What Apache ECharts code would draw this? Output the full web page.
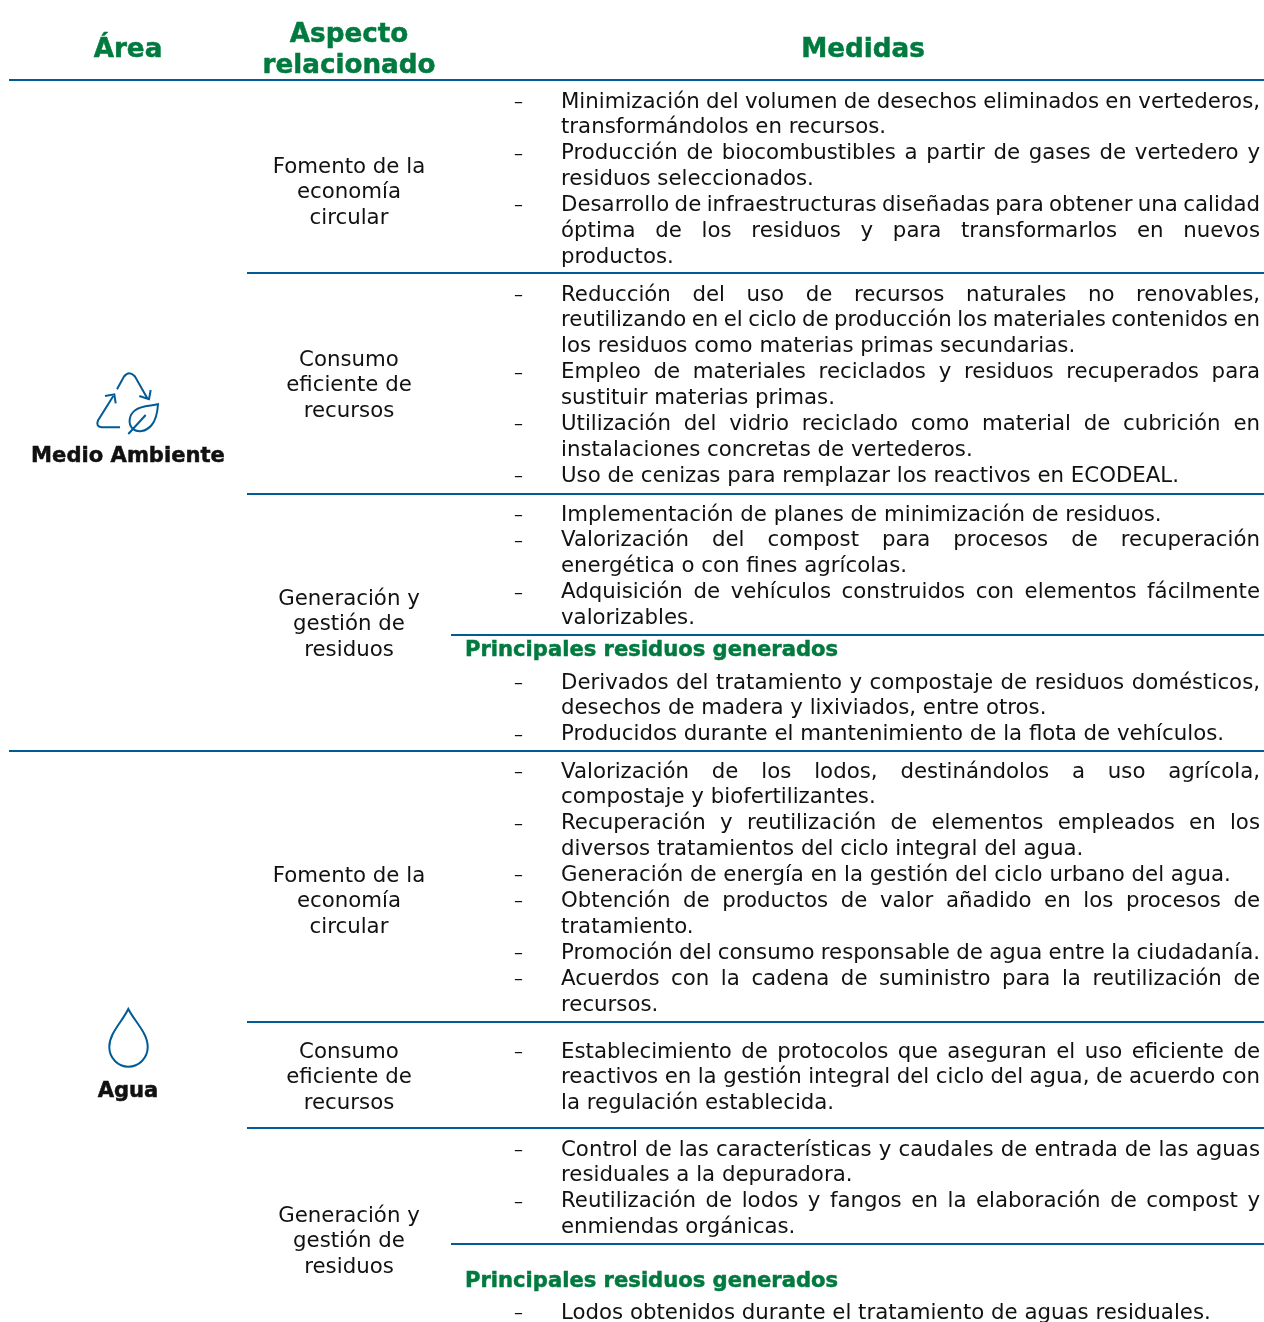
<!DOCTYPE html>
<html>
<head>
<meta charset="utf-8">
<style>html,body{margin:0;background:#fff}#main{width:1264px;height:1322px}</style>
<script src="https://cdn.jsdelivr.net/npm/echarts@6/dist/echarts.min.js"></script>
</head>
<body>
<div id="main"></div>
<script>
const headers = ["Área", ["Aspecto", "relacionado"], "Medidas"]
const areas = ["Medio Ambiente", "Agua"]
const subHeading = "Principales residuos generados"
const aspectCircular = ["Fomento de la", "economía", "circular"]
const aspectConsumo = ["Consumo", "eficiente de", "recursos"]
const aspectResiduos = ["Generación y", "gestión de", "residuos"]

// cada medida es una lista de lineas, la ultima no se justifica
const medidas1 = [
  ["Minimización del volumen de desechos eliminados en vertederos,", "transformándolos en recursos."],
  ["Producción de biocombustibles a partir de gases de vertedero y", "residuos seleccionados."],
  ["Desarrollo de infraestructuras diseñadas para obtener una calidad", "óptima de los residuos y para transformarlos en nuevos", "productos."]
]
const medidas2 = [
  ["Reducción del uso de recursos naturales no renovables,", "reutilizando en el ciclo de producción los materiales contenidos en", "los residuos como materias primas secundarias."],
  ["Empleo de materiales reciclados y residuos recuperados para", "sustituir materias primas."],
  ["Utilización del vidrio reciclado como material de cubrición en", "instalaciones concretas de vertederos."],
  ["Uso de cenizas para remplazar los reactivos en ECODEAL."]
]
const medidas3 = [
  ["Implementación de planes de minimización de residuos."],
  ["Valorización del compost para procesos de recuperación", "energética o con fines agrícolas."],
  ["Adquisición de vehículos construidos con elementos fácilmente", "valorizables."]
]
const residuos3 = [
  ["Derivados del tratamiento y compostaje de residuos domésticos,", "desechos de madera y lixiviados, entre otros."],
  ["Producidos durante el mantenimiento de la flota de vehículos."]
]
const medidas4 = [
  ["Valorización de los lodos, destinándolos a uso agrícola,", "compostaje y biofertilizantes."],
  ["Recuperación y reutilización de elementos empleados en los", "diversos tratamientos del ciclo integral del agua."],
  ["Generación de energía en la gestión del ciclo urbano del agua."],
  ["Obtención de productos de valor añadido en los procesos de", "tratamiento."],
  ["Promoción del consumo responsable de agua entre la ciudadanía."],
  ["Acuerdos con la cadena de suministro para la reutilización de", "recursos."]
]
const medidas5 = [
  ["Establecimiento de protocolos que aseguran el uso eficiente de", "reactivos en la gestión integral del ciclo del agua, de acuerdo con", "la regulación establecida."]
]
const medidas6 = [
  ["Control de las características y caudales de entrada de las aguas", "residuales a la depuradora."],
  ["Reutilización de lodos y fangos en la elaboración de compost y", "enmiendas orgánicas."]
]
const residuos6 = [
  ["Lodos obtenidos durante el tratamiento de aguas residuales."]
]

const GREEN = "#007a3e"
const BLUE = "#005b96"
const TEXT = "#111111"
const FONT = '"DejaVu Sans"'
const BODY_SIZE = 21.3
const BOLD_SIZE = 21.1
const HEAD_SIZE = 26.2
const LINE = 25.95
const DASH_X = 514
const TEXT_X = 561
const RIGHT_X = 1260

const el = document.getElementById("main")
const chart = echarts.init(el, null, { renderer: "canvas", width: 1264, height: 1322 })
const ctx = document.createElement("canvas").getContext("2d")
let items = []

function text(str, x, y, size, opts) {
  opts = opts || {}
  let color = opts.color || TEXT
  items.push({
    type: "text",
    x: x,
    y: y + 2,
    style: {
      text: str,
      fill: color,
      stroke: opts.bold ? color : null,
      lineWidth: opts.bold ? 0.5 : 0,
      font: (opts.bold ? "bold " : "") + size + "px " + FONT,
      align: opts.align || "left",
      verticalAlign: "middle"
    }
  })
}

function rule(x1, y) {
  items.push({
    type: "line",
    shape: { x1: x1, y1: y, x2: 1264, y2: y },
    style: { stroke: BLUE, lineWidth: 2 }
  })
}

// linea justificada: cada palabra se coloca segun el ancho medido
function justified(str, y) {
  ctx.font = BODY_SIZE + "px " + FONT
  let words = str.split(" ")
  let total = words.reduce((s, w) => s + ctx.measureText(w).width, 0)
  let gap = (RIGHT_X - TEXT_X - total) / (words.length - 1)
  let x = TEXT_X
  words.forEach(w => {
    text(w, x, y, BODY_SIZE)
    x += ctx.measureText(w).width + gap
  })
}

function tooWide(str) {
  ctx.font = BODY_SIZE + "px " + FONT
  return ctx.measureText(str).width > RIGHT_X - TEXT_X
}

function block(list, y) {
  list.forEach(lines => {
    text("–", DASH_X, y, 18)
    lines.forEach((l, i) => {
      if (i < lines.length - 1 || tooWide(l)) justified(l, y)
      else text(l, TEXT_X, y, BODY_SIZE)
      y += LINE
    })
  })
}

function centered(lines, x, y, size, opts) {
  lines.forEach((l, i) => text(l, x, y + i * LINE, size, Object.assign({ align: "center" }, opts)))
}

// cabecera
text(headers[0], 128, 48, HEAD_SIZE, { bold: true, color: GREEN, align: "center" })
text(headers[1][0], 349, 33, HEAD_SIZE, { bold: true, color: GREEN, align: "center" })
text(headers[1][1], 349, 64, HEAD_SIZE, { bold: true, color: GREEN, align: "center" })
text(headers[2], 863, 48, HEAD_SIZE, { bold: true, color: GREEN, align: "center" })

// filas
rule(9, 80)
rule(247, 273)
rule(247, 494)
rule(451, 635)
rule(9, 751)
rule(247, 1022)
rule(247, 1128)
rule(451, 1244)

centered(aspectCircular, 349, 165, BODY_SIZE)
centered(aspectConsumo, 349, 358, BODY_SIZE)
centered(aspectResiduos, 349, 597, BODY_SIZE)
centered(aspectCircular, 349, 874, BODY_SIZE)
centered(aspectConsumo, 349, 1050, BODY_SIZE)
centered(aspectResiduos, 349, 1214, BODY_SIZE)

block(medidas1, 100)
block(medidas2, 293)
block(medidas3, 513)
text(subHeading, 465, 649, BOLD_SIZE, { bold: true, color: GREEN })
block(residuos3, 681)
block(medidas4, 770)
block(medidas5, 1050)
block(medidas6, 1148)
text(subHeading, 465, 1280, BOLD_SIZE, { bold: true, color: GREEN })
block(residuos6, 1311)

text(areas[0], 128, 455, BOLD_SIZE, { bold: true, align: "center" })
text(areas[1], 128, 1090, BOLD_SIZE, { bold: true, align: "center" })

// iconos
const iconPaths = [
  "M117 389.3 L124 376.5 Q129.3 370 135 376.5 L147.3 398.3",
  "M150.7 390 L149 399.3 L139.3 396",
  "M120 427.3 L101.7 427.3 Q95.5 426.5 98 420.5 L113.3 396",
  "M105 396 L114.3 394.3 L115.7 403.3",
  "M158 404.3 C150 406 141 405.5 135.5 410 C128.5 415 128 424 132.5 428.5 C137 433 146 432 151.7 425 C156 420 157.5 412 158 404.3 Z",
  "M145.7 415 L128.3 434",
  "M128.3 1009 C122 1022 109.3 1033 109.3 1047 C109.3 1058 118 1066.7 128.3 1066.7 C139 1066.7 147.7 1058 147.7 1047 C147.7 1033 135 1022 128.3 1009 Z"
]
iconPaths.forEach((p, i) => {
  echarts.graphic.registerShape("icon" + i, echarts.graphic.extendPath(p))
  items.push({
    type: "icon" + i,
    style: { fill: "none", stroke: BLUE, lineWidth: 2 }
  })
})

chart.setOption({
  animation: false,
  backgroundColor: "#fff",
  graphic: { elements: items }
})
</script>
</body>
</html>
